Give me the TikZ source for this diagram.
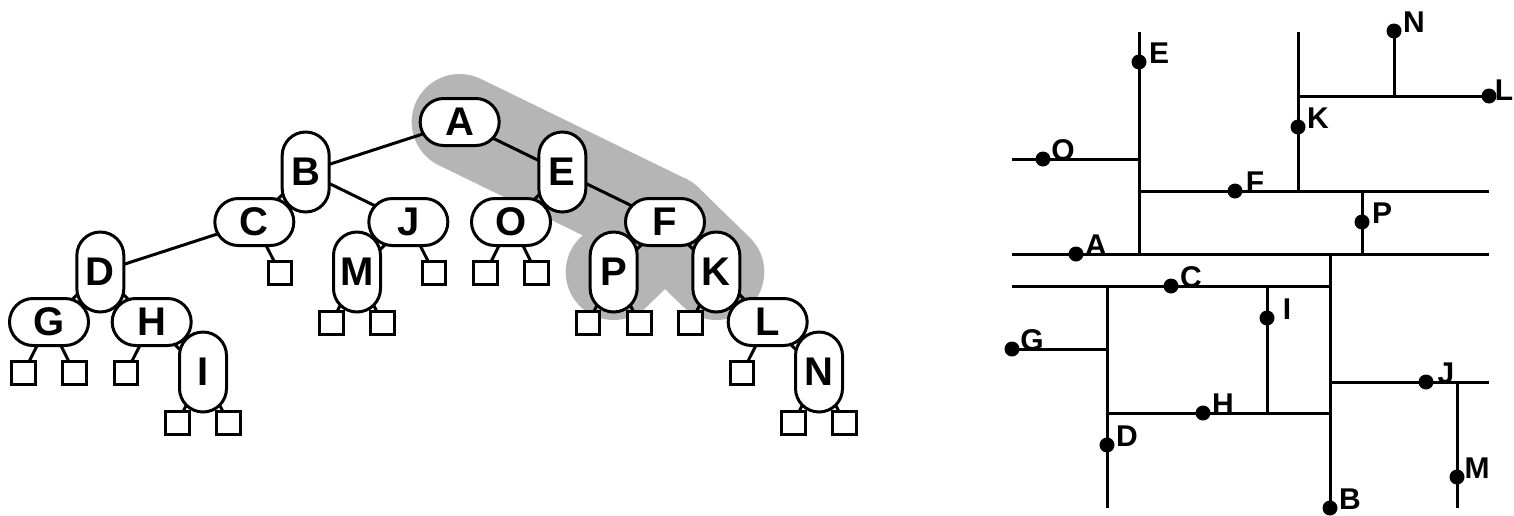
\documentclass[tikz,border=0pt]{standalone}
\usepackage{fontspec}
\setmainfont{Liberation Sans}
\definecolor{bandgray}{gray}{0.71}
\pgfdeclarelayer{bg}
\pgfsetlayers{bg,main}
\begin{document}
\begin{tikzpicture}[x=1pt,y=-1pt,
  ln/.style={line width=3pt},
  keynode/.style={draw,ln,fill=white,rounded corners=23.5pt,inner sep=0pt,
    font=\fontsize{40}{40}\selectfont\bfseries},
  hkey/.style={keynode,minimum width=79pt,minimum height=47pt},
  vkey/.style={keynode,minimum width=47pt,minimum height=80pt},
  leaf/.style={draw,ln,fill=white,minimum size=23.5pt,inner sep=0pt},
  band/.style={draw=bandgray,line width=96pt,line cap=round,line join=round},
  dot/.style={circle,fill=black,inner sep=0pt,minimum size=15pt},
  ptlabel/.style={inner sep=0pt,font=\fontsize{30}{30}\selectfont\bfseries}]
\useasboundingbox (0,0) rectangle (1514,515);

% ---------- the tree ----------
\node[hkey] (G) at (49,322) {G};
\node[vkey] (D) at (100.33,272) {D};
\node[hkey] (H) at (151.67,322) {H};
\node[vkey] (I) at (203,372) {I};
\node[hkey] (C) at (254.33,222) {C};
\node[vkey] (B) at (305.67,172) {B};
\node[vkey] (M) at (357,272) {M};
\node[hkey] (J) at (408.33,222) {J};
\node[hkey] (A) at (459.67,122) {A};
\node[hkey] (O) at (511,222) {O};
\node[vkey] (E) at (562.33,172) {E};
\node[vkey] (P) at (613.67,272) {P};
\node[hkey] (F) at (665,222) {F};
\node[vkey] (K) at (716.33,272) {K};
\node[hkey] (L) at (767.67,322) {L};
\node[vkey] (N) at (819,372) {N};

% external (empty) leaves
\node[leaf] (Gl) at (23.33,373) {};
\node[leaf] (Gr) at (74.67,373) {};
\node[leaf] (Hl) at (126,373) {};
\node[leaf] (Il) at (177.33,423) {};
\node[leaf] (Ir) at (228.67,423) {};
\node[leaf] (Cr) at (280,273) {};
\node[leaf] (Ml) at (331.33,323) {};
\node[leaf] (Mr) at (382.67,323) {};
\node[leaf] (Jr) at (434,273) {};
\node[leaf] (Ol) at (485.33,273) {};
\node[leaf] (Or) at (536.67,273) {};
\node[leaf] (Pl) at (588,323) {};
\node[leaf] (Pr) at (639.33,323) {};
\node[leaf] (Kl) at (690.67,323) {};
\node[leaf] (Ll) at (742,373) {};
\node[leaf] (Nl) at (793.33,423) {};
\node[leaf] (Nr) at (844.67,423) {};

\begin{pgfonlayer}{bg}
  % highlighted search path
  \draw[band] (A.center) -- (F.center) -- (K.center);
  \draw[band] (F.center) -- (P.center);
  % tree edges
  \draw[ln] (A.center) -- (B.center);
  \draw[ln] (A.center) -- (E.center);
  \draw[ln] (B.center) -- (C.center);
  \draw[ln] (B.center) -- (J.center);
  \draw[ln] (C.center) -- (D.center);
  \draw[ln] (D.center) -- (G.center);
  \draw[ln] (D.center) -- (H.center);
  \draw[ln] (H.center) -- (I.center);
  \draw[ln] (J.center) -- (M.center);
  \draw[ln] (E.center) -- (O.center);
  \draw[ln] (E.center) -- (F.center);
  \draw[ln] (F.center) -- (P.center);
  \draw[ln] (F.center) -- (K.center);
  \draw[ln] (K.center) -- (L.center);
  \draw[ln] (L.center) -- (N.center);
  % leaf stubs
  \draw[ln] (G.center) -- (Gl.center);
  \draw[ln] (G.center) -- (Gr.center);
  \draw[ln] (H.center) -- (Hl.center);
  \draw[ln] (I.center) -- (Il.center);
  \draw[ln] (I.center) -- (Ir.center);
  \draw[ln] (C.center) -- (Cr.center);
  \draw[ln] (M.center) -- (Ml.center);
  \draw[ln] (M.center) -- (Mr.center);
  \draw[ln] (J.center) -- (Jr.center);
  \draw[ln] (O.center) -- (Ol.center);
  \draw[ln] (O.center) -- (Or.center);
  \draw[ln] (P.center) -- (Pl.center);
  \draw[ln] (P.center) -- (Pr.center);
  \draw[ln] (K.center) -- (Kl.center);
  \draw[ln] (L.center) -- (Ll.center);
  \draw[ln] (N.center) -- (Nl.center);
  \draw[ln] (N.center) -- (Nr.center);
\end{pgfonlayer}

% ---------- the plane subdivision ----------
% horizontal cuts
\draw[ln] (1012,159) -- (1139,159);   % O
\draw[ln] (1139,191) -- (1489,191);   % F
\draw[ln] (1298,96) -- (1489,96);     % L
\draw[ln] (1012,254) -- (1489,254);   % A
\draw[ln] (1012,286) -- (1330,286);   % C
\draw[ln] (1012,349) -- (1107,349);   % G
\draw[ln] (1107,413) -- (1330,413);   % H
\draw[ln] (1330,382) -- (1489,382);   % J
% vertical cuts
\draw[ln] (1139,32) -- (1139,254);    % E
\draw[ln] (1298,32) -- (1298,191);    % K
\draw[ln] (1394,31) -- (1394,96);     % N
\draw[ln] (1362,191) -- (1362,254);   % P
\draw[ln] (1330,254) -- (1330,508);   % B
\draw[ln] (1107,286) -- (1107,508);   % D
\draw[ln] (1267,286) -- (1267,413);   % I
\draw[ln] (1457,382) -- (1457,508);   % M

% points
\node[dot] (pE) at (1139,62) {};
\node[dot] (pN) at (1394,31) {};
\node[dot] (pL) at (1489,96) {};
\node[dot] (pK) at (1298,127) {};
\node[dot] (pO) at (1043,159) {};
\node[dot] (pF) at (1235,191) {};
\node[dot] (pP) at (1362,222) {};
\node[dot] (pA) at (1076,254) {};
\node[dot] (pC) at (1171,286) {};
\node[dot] (pI) at (1267,318) {};
\node[dot] (pG) at (1012,349) {};
\node[dot] (pJ) at (1426,382) {};
\node[dot] (pH) at (1203,413) {};
\node[dot] (pD) at (1107,445) {};
\node[dot] (pM) at (1457,477) {};
\node[dot] (pB) at (1330,508) {};

\foreach \p in {E,N,K,O,F,P,A,C,I,G,J,H,D,M,B}
  \node[ptlabel] at ([shift={(20,-9)}]p\p) {\p};
\node[ptlabel] at ([shift={(15,-6)}]pL) {L};
\end{tikzpicture}
\end{document}
